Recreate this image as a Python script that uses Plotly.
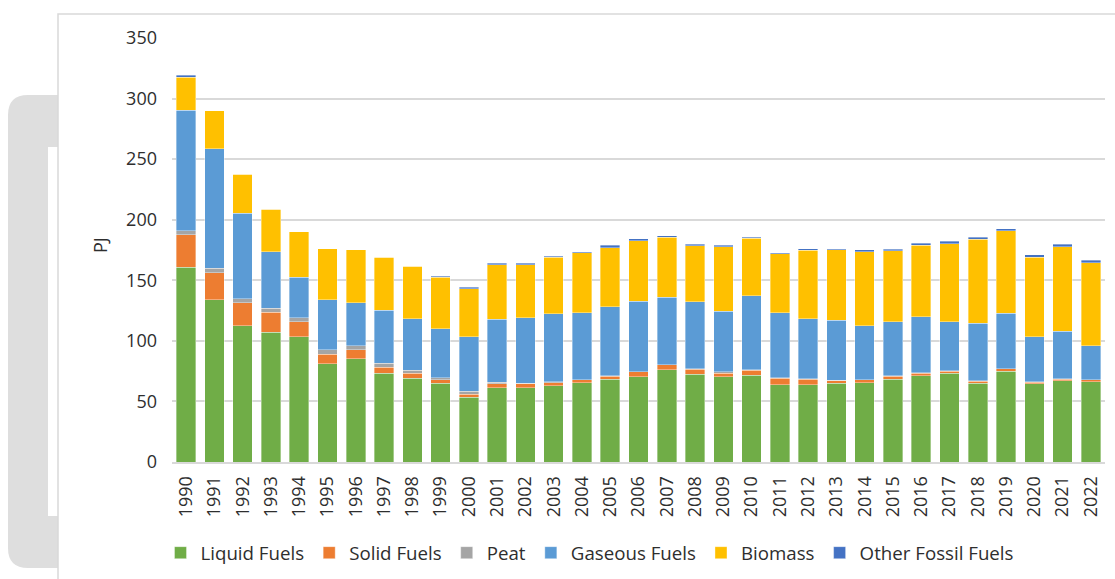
import plotly.graph_objects as go

years = [str(y) for y in range(1990, 2023)]
liquid = [160.7, 134.0, 112.3, 107.1, 103.4, 81.2, 85.3, 73.2, 69.1, 64.9, 53.4, 61.4, 61.4, 63.0, 65.5, 68.3,
          70.4, 76.2, 72.6, 70.4, 71.5, 63.6, 63.6, 65.0, 65.5, 68.3, 71.2, 73.2, 65.0, 74.9, 64.7, 67.1, 66.3]
solid = [26.7, 22.3, 19.0, 16.4, 12.4, 7.7, 7.2, 5.2, 4.1, 3.0, 2.7, 3.3, 3.3, 2.4, 2.2, 2.4,
         3.9, 3.9, 3.9, 2.8, 4.4, 5.5, 4.7, 2.1, 2.4, 2.4, 2.0, 1.9, 1.6, 1.9, 1.1, 1.2, 1.4]
peat = [3.3, 3.6, 3.3, 3.6, 3.3, 3.6, 3.5, 3.3, 2.7, 1.7, 2.5, 1.3, 0.5, 0.9, 0.3, 0.3,
        0.3, 0.3, 0.3, 1.1, 0.3, 0.3, 0.3, 0.3, 0.2, 0.3, 0.3, 0.3, 0.3, 0.3, 0.3, 0.3, 0.3]
gas = [99.6, 98.5, 70.9, 46.5, 33.6, 41.5, 35.3, 43.5, 42.4, 40.2, 44.9, 52.0, 53.9, 56.1, 55.4, 57.0,
       58.3, 55.8, 55.3, 50.1, 61.1, 53.6, 49.7, 49.8, 44.2, 44.6, 46.5, 40.2, 47.8, 45.6, 37.4, 39.5, 28.0]
biomass = [27.5, 31.6, 32.0, 35.2, 37.2, 42.1, 44.0, 44.0, 43.2, 42.9, 39.6, 44.9, 43.8, 46.6, 49.2, 48.9,
           49.8, 49.3, 46.5, 53.3, 47.3, 49.0, 56.5, 58.1, 61.3, 58.9, 59.1, 64.6, 69.1, 68.0, 65.7, 69.6, 68.5]
other = [1.4, 0.0, 0.0, 0.0, 0.0, 0.0, 0.0, 0.0, 0.0, 0.8, 1.2, 1.1, 1.1, 1.0, 1.1, 1.9,
         1.4, 1.1, 1.1, 1.2, 1.1, 0.8, 1.1, 0.8, 1.7, 1.1, 1.4, 2.2, 1.9, 1.9, 1.7, 2.0, 1.9]

series_names = ["Liquid Fuels", "Solid Fuels", "Peat", "Gaseous Fuels", "Biomass", "Other Fossil Fuels"]
series_values = [liquid, solid, peat, gas, biomass, other]
series_colors = ["#70AD47", "#ED7D31", "#A5A5A5", "#5B9BD5", "#FFC000", "#4472C4"]

y_ticks = [0, 50, 100, 150, 200, 250, 300, 350]

FONT = "Open Sans, Liberation Sans, sans-serif"
TXT = "#2e2e2e"

# plot-area geometry in pixels
L, R, T, B = 172, 1105, 38, 462
W, H = R - L, B - T


def px(x):
    return (x - L) / W


def py(y):
    return (B - y) / H


fig = go.Figure()
for name, vals, col in zip(series_names, series_values, series_colors):
    fig.add_trace(go.Bar(
        x=years, y=vals, name=name,
        marker=dict(color=col, line=dict(color="rgba(255,255,255,0.45)", width=0.8)),
    ))

# background decoration: grey rounded card, white inset, white framed chart area
gx0, gx1, gy0, gy1, r = 8, 200, 95, 568, 20
gpath = (f"M {px(gx0 + r)},{py(gy0)} L {px(gx1)},{py(gy0)} L {px(gx1)},{py(gy1)} "
         f"L {px(gx0 + r)},{py(gy1)} Q {px(gx0)},{py(gy1)} {px(gx0)},{py(gy1 - r)} "
         f"L {px(gx0)},{py(gy0 + r)} Q {px(gx0)},{py(gy0)} {px(gx0 + r)},{py(gy0)} Z")
shapes = [
    dict(type="path", xref="paper", yref="paper", path=gpath, fillcolor="#dedede",
         line=dict(width=0), layer="below"),
    dict(type="rect", xref="paper", yref="paper", x0=px(48), x1=px(70), y0=py(147), y1=py(516),
         fillcolor="white", line=dict(width=0), layer="below"),
    dict(type="rect", xref="paper", yref="paper", x0=px(58), x1=px(1130), y0=py(14), y1=py(600),
         fillcolor="white", line=dict(color="#d9d9d9", width=1.5), layer="below"),
]

fig.update_layout(
    barmode="stack",
    bargap=0.31,
    width=1115, height=579,
    margin=dict(l=L, r=1115 - R, t=T, b=579 - B, autoexpand=False),
    paper_bgcolor="white",
    plot_bgcolor="rgba(0,0,0,0)",
    font=dict(family=FONT, size=18, color=TXT),
    shapes=shapes,
    showlegend=True,
    legend=dict(orientation="h", xref="container", yref="container",
                x=590 / 1115, xanchor="center", y=1 - 553 / 579, yanchor="middle",
                font=dict(size=18.7, color=TXT), itemwidth=30, traceorder="normal"),
    annotations=[dict(text="PJ", xref="paper", yref="paper", x=px(100), y=py(245),
                      xanchor="center", yanchor="middle",
                      showarrow=False, textangle=-90, font=dict(size=18, color=TXT))],
)
fig.update_xaxes(
    type="category", tickangle=-90, showgrid=False, showline=True,
    linecolor="#d9d9d9", linewidth=2, ticks="", ticklabelstandoff=5,
    tickfont=dict(size=18, color=TXT),
)
fig.update_yaxes(
    range=[0, 350], tickvals=y_ticks, showgrid=True, gridcolor="#d9d9d9", gridwidth=2,
    zeroline=False, showline=False, ticks="", ticklabelstandoff=14,
    tickfont=dict(size=18, color=TXT),
)

fig.write_html("out.html", config={"displayModeBar": False},
               post_script="document.body.style.margin='0';")
